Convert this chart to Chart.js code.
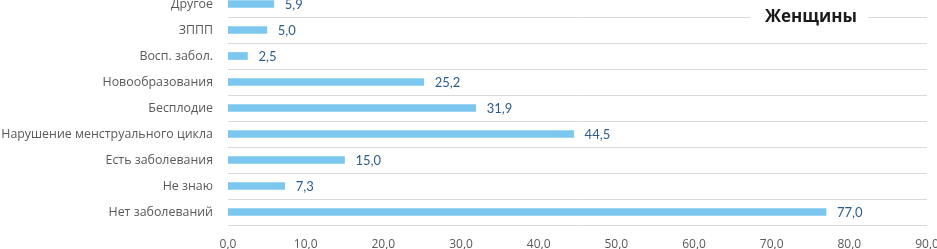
<!DOCTYPE html>
<html>
<head>
<meta charset="utf-8">
<script src="https://cdn.jsdelivr.net/npm/chart.js@4"></script>
<style>
  html, body { margin: 0; padding: 0; background: #fff; overflow: hidden; }
  #wrap { position: absolute; left: 0; top: -9px; width: 937px; height: 258px; }
</style>
</head>
<body>
<div id="wrap"><canvas id="womenChart"></canvas></div>
<script>
let categories = ['Другое', 'ЗППП', 'Восп. забол.', 'Новообразования', 'Бесплодие',
  'Нарушение менструального цикла', 'Есть заболевания', 'Не знаю', 'Нет заболеваний']
let values = [5.9, 5.0, 2.5, 25.2, 31.9, 44.5, 15.0, 7.3, 77.0]
let xTicks = [0, 10, 20, 30, 40, 50, 60, 70, 80, 90]
let chartTitle = 'Женщины'

let fmt = v => v.toFixed(1).replace('.', ',')

// value labels next to bar ends
let valueLabels = {
  id: 'valueLabels',
  afterDatasetsDraw(chart) {
    let ctx = chart.ctx
    ctx.save()
    ctx.font = '13px Lato'
    ctx.fillStyle = '#2E5C8A'
    ctx.textBaseline = 'middle'
    chart.getDatasetMeta(0).data.forEach((bar, i) => {
      ctx.fillText(fmt(values[i]), bar.x + 11, bar.y + 1)
    })
    ctx.restore()
  }
}

// title sitting on top of a grid line
let boxTitle = {
  id: 'boxTitle',
  afterDraw(chart) {
    let ctx = chart.ctx
    let y = chart.scales.y.getPixelForValue(0) + 13
    ctx.save()
    ctx.fillStyle = '#fff'
    ctx.fillRect(750, y - 10, 118, 20)
    ctx.font = 'bold 17px "Open Sans"'
    ctx.fillStyle = '#1a1a1a'
    ctx.textAlign = 'center'
    ctx.textBaseline = 'alphabetic'
    ctx.fillText(chartTitle, 811, y + 5)
    ctx.restore()
  }
}

new Chart(document.getElementById('womenChart'), {
  type: 'bar',
  data: {
    labels: categories,
    datasets: [{
      data: values,
      backgroundColor: '#7CC7EF',
      barThickness: 7
    }]
  },
  options: {
    indexAxis: 'y',
    responsive: true,
    maintainAspectRatio: false,
    animation: false,
    layout: { padding: { left: 0, right: 10, top: 0, bottom: 0 } },
    plugins: { legend: { display: false }, tooltip: { enabled: false } },
    scales: {
      x: {
        min: 0, max: 90,
        afterBuildTicks: scale => { scale.ticks = xTicks.map(v => ({ value: v })) },
        afterFit: scale => {
          scale.height = 24
          scale.paddingLeft = 0
          scale.paddingRight = 0
        },
        grid: { display: false },
        border: { display: false },
        ticks: {
          color: '#595959',
          font: { family: 'Open Sans', size: 12 },
          padding: 4,
          maxRotation: 0,
          callback: v => fmt(v)
        }
      },
      y: {
        afterFit: scale => {
          scale.width = 228
          scale.paddingTop = 0
          scale.paddingBottom = 0
        },
        grid: { color: '#D9D9D9', drawTicks: false, offset: true },
        border: { display: false },
        ticks: {
          color: '#595959',
          font: { family: 'Open Sans', size: 12.4 },
          padding: 15
        }
      }
    }
  },
  plugins: [valueLabels, boxTitle]
})
</script>
</body>
</html>
